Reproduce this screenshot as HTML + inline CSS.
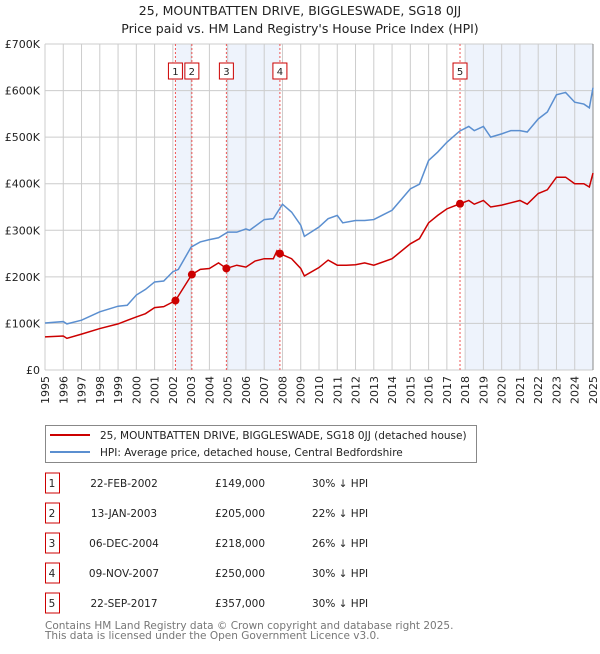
<!DOCTYPE html>
<html><head><meta charset="utf-8"><style>
body{margin:0;background:#fff;font-family:"DejaVu Sans","Liberation Sans",sans-serif;}
svg text{font-family:"DejaVu Sans","Liberation Sans",sans-serif;}
</style></head><body>
<svg width="600" height="650" xmlns="http://www.w3.org/2000/svg" id="chart">
<text x="300" y="15" text-anchor="middle" font-size="12.5" font-weight="500" fill="#222">25, MOUNTBATTEN DRIVE, BIGGLESWADE, SG18 0JJ</text>
<text x="300" y="33" text-anchor="middle" font-size="12.5" fill="#222">Price paid vs. HM Land Registry's House Price Index (HPI)</text>
<g id="plot"></g>
<g>
<rect x="45.5" y="425.5" width="431" height="37" fill="#fff" stroke="#888"/>
<line x1="50" y1="435" x2="90" y2="435" stroke="#cc0000" stroke-width="2"/>
<text x="100" y="439" font-size="10.5" fill="#222">25, MOUNTBATTEN DRIVE, BIGGLESWADE, SG18 0JJ (detached house)</text>
<line x1="50" y1="452" x2="90" y2="452" stroke="#5b8fd0" stroke-width="2"/>
<text x="100" y="456" font-size="10.5" fill="#222">HPI: Average price, detached house, Central Bedfordshire</text>
</g>
<g id="table"></g>
<text x="45" y="629" font-size="10.5" fill="#777">Contains HM Land Registry data © Crown copyright and database right 2025.</text>
<text x="45" y="639" font-size="10.5" fill="#777">This data is licensed under the Open Government Licence v3.0.</text>
</svg>
<script>
const hpiYears=[1995,1996,1996.2,1997,1998,1999,1999.5,2000,2000.5,2001,2001.5,2002,2002.3,2003,2003.5,2004,2004.5,2005,2005.5,2006,2006.2,2007,2007.5,2008,2008.5,2009,2009.2,2010,2010.5,2011,2011.3,2012,2012.5,2013,2014,2015,2015.5,2016,2016.5,2017,2017.7,2018.2,2018.5,2019,2019.4,2020,2020.5,2021,2021.4,2022,2022.5,2023,2023.5,2024,2024.5,2024.8,2025];
const hpiValues=[101,104,99,107,125,137,139,161,173,189,191,211,216,264,275,280,284,296,296,303,300,323,325,356,339,311,287,307,325,332,316,321,321,323,343,389,399,450,468,489,513,523,514,523,500,507,514,514,511,539,554,591,596,575,571,563,606];
const propYears=[1995,1996,1996.2,1997,1998,1999,2000,2000.5,2001,2001.5,2002.14,2003.04,2003.5,2004,2004.5,2004.93,2005.5,2006,2006.5,2007,2007.5,2007.7,2007.86,2008.5,2009,2009.2,2010,2010.5,2011,2011.5,2012,2012.5,2013,2014,2015,2015.5,2016,2016.5,2017,2017.72,2018.2,2018.5,2019,2019.4,2020,2020.5,2021,2021.4,2022,2022.5,2023,2023.5,2024,2024.5,2024.8,2025];
const propValues=[71,73,68,77,89,99,114,121,134,136,149,205,216,218,230,218,225,221,234,239,239,256,250,239,218,202,220,236,225,225,226,230,225,239,271,282,316,332,346,357,364,356,364,350,354,359,364,356,379,387,414,414,400,400,393,423];
const saleLabels=["1","2","3","4","5"];
const saleYears=[2002.14,2003.04,2004.93,2007.86,2017.72];
const salePrices=[149,205,218,250,357];
const saleDates=["22-FEB-2002","13-JAN-2003","06-DEC-2004","09-NOV-2007","22-SEP-2017"];
const salePriceText=["£149,000","£205,000","£218,000","£250,000","£357,000"];
const saleHpiText=["30% ↓ HPI","22% ↓ HPI","26% ↓ HPI","30% ↓ HPI","30% ↓ HPI"];
const yTicks=[0,100,200,300,400,500,600,700];
const yTickLabels=["£0","£100K","£200K","£300K","£400K","£500K","£600K","£700K"];
const xTicks=[1995,1996,1997,1998,1999,2000,2001,2002,2003,2004,2005,2006,2007,2008,2009,2010,2011,2012,2013,2014,2015,2016,2017,2018,2019,2020,2021,2022,2023,2024,2025];

const NS="http://www.w3.org/2000/svg";
const L=45,R=593,T=44,B=370;
const xs=y=>L+(y-1995)/30*(R-L);
const ys=v=>B-v/700*(B-T);
const g=document.getElementById('plot');
function mk(tag,attrs,parent){const e=document.createElementNS(NS,tag);for(const k in attrs)e.setAttribute(k,attrs[k]);(parent||g).appendChild(e);return e;}
const shadeSpans=[[saleYears[0],saleYears[1]],[saleYears[2],saleYears[3]],[saleYears[4]+0.3,2025]];
shadeSpans.forEach((s,i)=>{const r=mk('rect',{x:xs(s[0]),y:T,width:xs(s[1])-xs(s[0]),height:B-T,fill:'#eef3fc'});

});
xTicks.forEach(y=>{const l=mk('line',{x1:xs(y),y1:T,x2:xs(y),y2:B,stroke:'#ccc','stroke-width':1});


const t=mk('text',{x:0,y:0,'font-size':11,fill:'#222','text-anchor':'end',transform:`translate(${xs(y)+4},${B+6}) rotate(-90)`});
t.textContent=y;

});
yTicks.forEach((v,i)=>{const l=mk('line',{x1:L,y1:ys(v),x2:R,y2:ys(v),stroke:'#ccc','stroke-width':1});


const t=mk('text',{x:L-5,y:ys(v)+4,'font-size':11,fill:'#222','text-anchor':'end'});
t.textContent=yTickLabels[i];

});
mk('line',{x1:R,y1:T,x2:R,y2:B,stroke:'#888','stroke-width':1});
saleYears.forEach((y,i)=>{const l=mk('line',{x1:xs(y),y1:T,x2:xs(y),y2:B,stroke:'#e55','stroke-width':1,'stroke-dasharray':'2,2'});


const r=mk('rect',{x:xs(y)-7,y:63,width:14,height:16,fill:'#fff',stroke:'#cc0000'});


const t=mk('text',{x:xs(y),y:75,'font-size':10,fill:'#222','text-anchor':'middle'});
t.textContent=saleLabels[i];

});
const hp=mk('polyline',{points:hpiYears.map((y,i)=>xs(y)+','+ys(hpiValues[i])).join(' '),fill:'none',stroke:'#5b8fd0','stroke-width':1.5});


const pp=mk('polyline',{points:propYears.map((y,i)=>xs(y)+','+ys(propValues[i])).join(' '),fill:'none',stroke:'#cc0000','stroke-width':1.5});


saleYears.forEach((y,i)=>{const c=mk('circle',{cx:xs(y),cy:ys(salePrices[i]),r:4,fill:'#cc0000'});

});
const tb=document.getElementById('table');
saleLabels.forEach((lab,i)=>{const y0=473+i*30;
const r=mk('rect',{x:45.5,y:y0,width:14,height:20,fill:'#fff',stroke:'#cc0000'},tb);


const cells=[[52,'middle',lab],[124,'middle',saleDates[i]],[240,'middle',salePriceText[i]],[312,'start',saleHpiText[i]]];
cells.forEach((c,j)=>{const t=mk('text',{x:c[0],y:y0+14,'font-size':10.5,fill:'#222','text-anchor':c[1]},tb);
t.textContent=c[2];

});});
</script>
</body></html>
